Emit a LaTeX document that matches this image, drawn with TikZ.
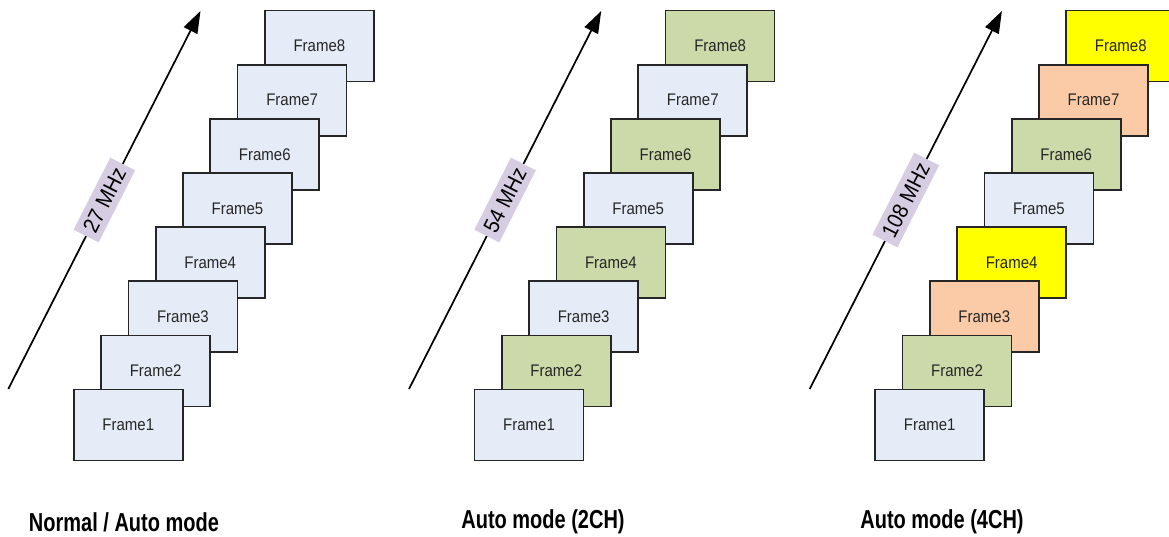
\documentclass[tikz,border=0pt]{standalone}
\usepackage{fontspec}
\setmainfont{Liberation Sans}
\usetikzlibrary{arrows.meta}
\definecolor{fblue}{HTML}{E6ECF7}
\definecolor{fgreen}{HTML}{CCDAAA}
\definecolor{fpeach}{HTML}{FACBA6}
\definecolor{fyellow}{HTML}{FFFF00}
\definecolor{flav}{HTML}{D6CDE2}
\definecolor{fborder}{HTML}{262626}
\newcommand{\tallt}[2]{\scalebox{1}[#1]{#2}}
\begin{document}
\begin{tikzpicture}[x=1pt,y=-1pt,
  frame/.style={draw=fborder, line width=1.7pt, minimum width=109pt, minimum height=71pt,
    inner sep=0pt, font=\fontsize{15}{18}\selectfont, text=black!85},
  freq/.style={-{Triangle[length=22pt,width=15pt]}, line width=1.7pt, black},
  freqlabel/.style={fill=flav, sloped, inner xsep=6pt, inner ysep=0pt, minimum height=28pt,
    font=\fontsize{20}{24}\selectfont},
  modelabel/.style={font=\bfseries\fontsize{20}{24}\selectfont}]
\useasboundingbox (0,0) rectangle (1169,537);
\clip (0,0) rectangle (1169,537);
\foreach \p/\cols/\f in {
  0/{fblue,fblue,fblue,fblue,fblue,fblue,fblue,fblue}/27 MHz,
  1/{fgreen,fblue,fgreen,fblue,fgreen,fblue,fgreen,fblue}/54 MHz,
  2/{fyellow,fpeach,fgreen,fblue,fyellow,fpeach,fgreen,fblue}/108 MHz}{
  \coordinate (s\p) at ({8.3+400.7*\p},389);
  \coordinate (e\p) at ({200.5+400.7*\p},11);
  \draw[freq] (s\p) -- node[freqlabel] (l\p) {\tallt{1.1}{\f}} (e\p);
  \foreach \c [count=\k] in \cols {
    \pgfmathtruncatemacro{\i}{9-\k}
    \node[frame, fill=\c] (f\p-\i) at ({128.3+400.7*\p+27.3*(\i-1)},{425-54.14*(\i-1)}) {\tallt{1.12}{Frame\i}};
  }
}
\node[modelabel] (m0) at (124,522) {\tallt{1.3}{Normal / Auto mode}};
\node[modelabel] (m1) at (543,522) {\tallt{1.3}{Auto mode (2CH)}};
\node[modelabel] (m2) at (942,522) {\tallt{1.3}{Auto mode (4CH)}};
\end{tikzpicture}
\end{document}
